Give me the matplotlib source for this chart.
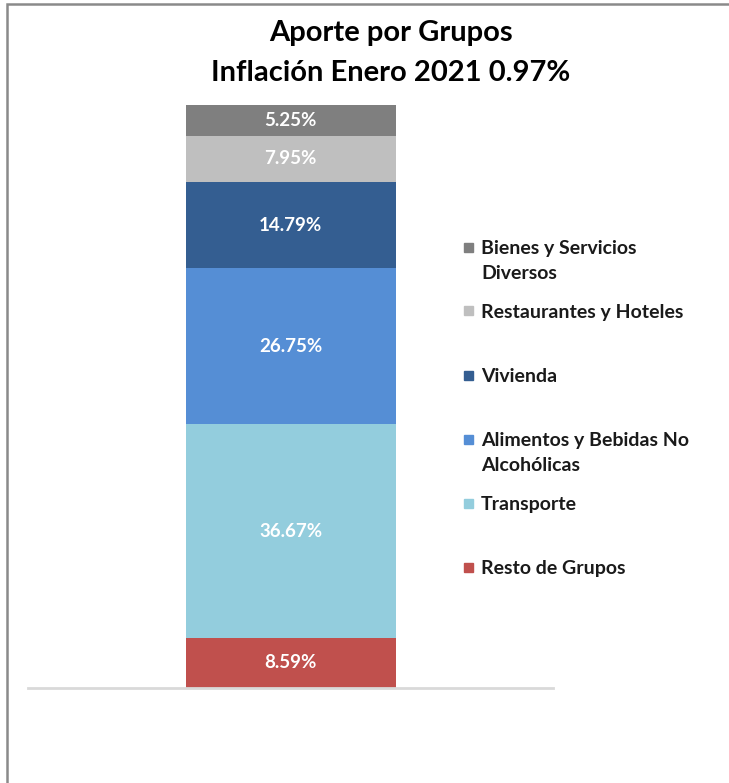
import matplotlib
matplotlib.use("Agg")
import matplotlib.pyplot as plt
from matplotlib.patches import Rectangle

categories = ["Resto de Grupos", "Transporte", "Alimentos y Bebidas No\nAlcohólicas",
              "Vivienda", "Restaurantes y Hoteles", "Bienes y Servicios\nDiversos"]
values = [8.59, 36.67, 26.75, 14.79, 7.95, 5.25]
labels = ["8.59%", "36.67%", "26.75%", "14.79%", "7.95%", "5.25%"]
colors = ["#c0504d", "#93cddd", "#558ed5", "#345e91", "#bfbfbf", "#7f7f7f"]
title = "Aporte por Grupos\nInflación Enero 2021 0.97%"

W, H = 729, 783
fig = plt.figure(figsize=(W / 100, H / 100), dpi=100)
plt.rcParams['font.family'] = ['Lato', 'DejaVu Sans']

ax = fig.add_axes([28 / W, 1 - 688 / H, 525 / W, 583 / H])
bottom = 0
for v, lab, c, cat in zip(values, labels, colors, categories):
    ax.bar(0, v, width=0.8, bottom=bottom, color=c, edgecolor="none")
    ax.text(0, bottom + v / 2, lab, ha="center", va="center", color="white",
            fontsize=13.5, fontweight="bold")
    bottom += v
ax.set_xlim(-1, 1)
ax.set_ylim(0, 100)
for s in ["top", "right", "left"]:
    ax.spines[s].set_visible(False)
ax.spines["bottom"].set_color("#d9d9d9")
ax.spines["bottom"].set_linewidth(2)
ax.set_xticks([])
ax.set_yticks([])

fig.text(391 / W, 1 - 53 / H, title, ha="center", va="center", fontsize=21,
         fontweight="bold", color="black", linespacing=1.65)

# legend (top entry first)
for i, (cat, c) in enumerate(zip(categories[::-1], colors[::-1])):
    yc = 247 + i * 64
    fig.patches.append(Rectangle((464 / W, 1 - (yc + 4.5) / H), 9 / W, 9 / H,
                                 transform=fig.transFigure, color=c))
    fig.text(481 / W, 1 - (yc - 7) / H, cat, ha="left", va="top", fontsize=14,
             fontweight="bold", color="#1a1a1a", linespacing=1.55)

# outer chart border
fig.patches.append(Rectangle((7 / W, -0.05), 1.0, 1 - 4 / H + 0.05,
                             transform=fig.transFigure, fill=False,
                             edgecolor="#8a8a8a", linewidth=1.8))

fig.savefig("out.png", dpi=100, facecolor="white")
